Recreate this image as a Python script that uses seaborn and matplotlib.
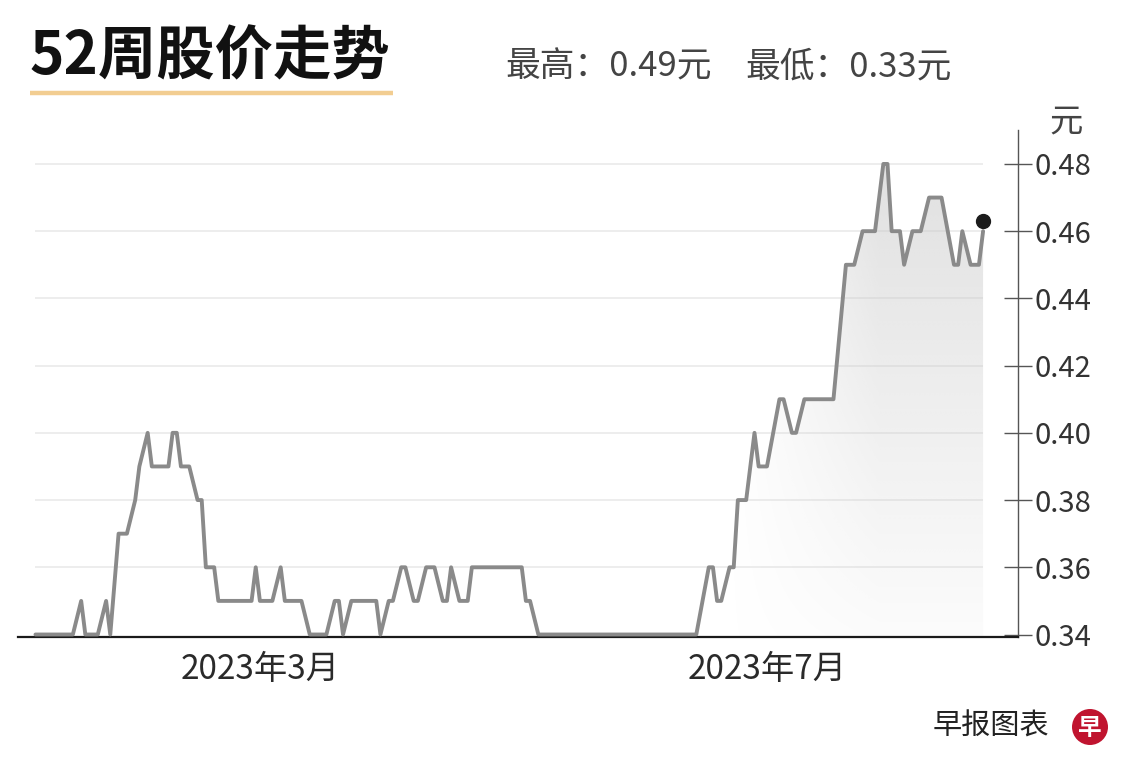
import numpy as np
import pandas as pd
import matplotlib
matplotlib.use("Agg")
import matplotlib.pyplot as plt
import matplotlib.dates as mdates
from matplotlib.patches import Ellipse
import seaborn as sns

# ---------------- data ----------------
dates = [
    "2023-01-06", "2023-01-15", "2023-01-17", "2023-01-18", "2023-01-21", "2023-01-23",
    "2023-01-24", "2023-01-26", "2023-01-28", "2023-01-30", "2023-01-31",
    "2023-02-02", "2023-02-03", "2023-02-07", "2023-02-08", "2023-02-09", "2023-02-10",
    "2023-02-12", "2023-02-14", "2023-02-15", "2023-02-16", "2023-02-18", "2023-02-19",
    "2023-02-27", "2023-02-28",
    "2023-03-01", "2023-03-04", "2023-03-06", "2023-03-07", "2023-03-11", "2023-03-13",
    "2023-03-17", "2023-03-19", "2023-03-20", "2023-03-21", "2023-03-23", "2023-03-29",
    "2023-03-30",
    "2023-04-01", "2023-04-02", "2023-04-04", "2023-04-05", "2023-04-07", "2023-04-08",
    "2023-04-10", "2023-04-12", "2023-04-14", "2023-04-15", "2023-04-16", "2023-04-18",
    "2023-04-20", "2023-04-21",
    "2023-05-03", "2023-05-04", "2023-05-05", "2023-05-07",
    "2023-06-14", "2023-06-17", "2023-06-18", "2023-06-19", "2023-06-20", "2023-06-22",
    "2023-06-23", "2023-06-24", "2023-06-26", "2023-06-28", "2023-06-29",
    "2023-07-01", "2023-07-04", "2023-07-05", "2023-07-07", "2023-07-08", "2023-07-10",
    "2023-07-17", "2023-07-20", "2023-07-22", "2023-07-24", "2023-07-27", "2023-07-29",
    "2023-07-30", "2023-07-31",
    "2023-08-02", "2023-08-03", "2023-08-05", "2023-08-07", "2023-08-09", "2023-08-12",
    "2023-08-15", "2023-08-16", "2023-08-17", "2023-08-19", "2023-08-21", "2023-08-22",
]
prices = [
    0.34, 0.34, 0.35, 0.34, 0.34, 0.35,
    0.34, 0.37, 0.37, 0.38, 0.39,
    0.40, 0.39, 0.39, 0.40, 0.40, 0.39,
    0.39, 0.38, 0.38, 0.36, 0.36, 0.35,
    0.35, 0.36,
    0.35, 0.35, 0.36, 0.35, 0.35, 0.34,
    0.34, 0.35, 0.35, 0.34, 0.35, 0.35,
    0.34,
    0.35, 0.35, 0.36, 0.36, 0.35, 0.35,
    0.36, 0.36, 0.35, 0.35, 0.36, 0.35,
    0.35, 0.36,
    0.36, 0.35, 0.35, 0.34,
    0.34, 0.36, 0.36, 0.35, 0.35, 0.36,
    0.36, 0.38, 0.38, 0.40, 0.39,
    0.39, 0.41, 0.41, 0.40, 0.40, 0.41,
    0.41, 0.45, 0.45, 0.46, 0.46, 0.48,
    0.48, 0.46,
    0.46, 0.45, 0.46, 0.46, 0.47, 0.47,
    0.45, 0.45, 0.46, 0.45, 0.45, 0.46,
]
y_ticks = [0.34, 0.36, 0.38, 0.40, 0.42, 0.44, 0.46, 0.48]
y_tick_labels = ["0.34", "0.36", "0.38", "0.40", "0.42", "0.44", "0.46", "0.48"]
x_tick_dates = ["2023-03-01", "2023-07-01"]
x_tick_labels = ["2023年3月", "2023年7月"]
title = "52周股价走势"
high_text = "最高：0.49元"
low_text = "最低：0.33元"
unit_text = "元"
source_text = "早报图表"

df = pd.DataFrame({"date": pd.to_datetime(dates), "price": prices})

# ---------------- style ----------------
sns.set_theme(style="white")
plt.rcParams["font.family"] = ["Noto Sans CJK SC", "DejaVu Sans"]

W, H = 1140, 778
fig = plt.figure(figsize=(W / 100, H / 100), dpi=100)
fig.patch.set_facecolor("white")

ax_left, ax_right, ax_top, ax_bot = 18, 1018, 130, 637
ax = fig.add_axes([ax_left / W, 1 - ax_bot / H, (ax_right - ax_left) / W, (ax_bot - ax_top) / H])
ax.set_facecolor("white")

ymin, ymax = 0.33926, 0.4901
mar1 = pd.Timestamp("2023-03-01")
xmin = mar1 + pd.Timedelta(days=-58.2)
xmax = mar1 + pd.Timedelta(days=182.4)

# grid lines only across data range
ax.hlines(y_ticks[1:], df["date"].iloc[0], df["date"].iloc[-1], colors="#ececec", linewidth=1.3, zorder=0)

# gradient fill under the line
poly = ax.fill_between(df["date"], df["price"], ymin, facecolor="none", edgecolor="none")
nx, ny = 400, 200
gx = np.linspace(0, 1, nx)
gy = np.linspace(0, 1, ny)
GX, GY = np.meshgrid(gx, gy)
px = ax_left + GX * (ax_right - ax_left)
hfade = np.clip((px - 730) / (880 - 730), 0, 1)
alpha = hfade * (0.06 + 0.52 * GY)
img = np.zeros((ny, nx, 4))
img[..., 0:3] = 200 / 255
img[..., 3] = alpha
x0n, x1n = mdates.date2num(xmin), mdates.date2num(xmax)
im = ax.imshow(img, extent=[x0n, x1n, ymin, ymax], origin="lower", aspect="auto", zorder=1,
               interpolation="bilinear")
im.set_clip_path(poly.get_paths()[0], transform=ax.transData)

sns.lineplot(data=df, x="date", y="price", ax=ax, color="#8a8a8a", linewidth=2.8, zorder=3)
for ln in ax.lines:
    ln.set_solid_joinstyle("round")
    ln.set_solid_capstyle("round")

# end dot
ax.plot([df["date"].iloc[-1]], [df["price"].iloc[-1] + 0.003], "o", color="#1c1c1c",
        markersize=10, zorder=4)

ax.set_xlim(xmin, xmax)
ax.set_ylim(ymin, ymax)

# axes styling
for s in ["left", "top"]:
    ax.spines[s].set_visible(False)
ax.spines["bottom"].set_color("#1a1a1a")
ax.spines["bottom"].set_linewidth(1.6)
ax.spines["right"].set_color("#555555")
ax.spines["right"].set_linewidth(1.0)

ax.yaxis.tick_right()
ax.set_yticks(y_ticks)
ax.set_yticklabels(y_tick_labels)
ax.tick_params(axis="y", direction="inout", length=20, width=1, color="#555555",
               labelsize=21, labelcolor="#333333", pad=2, left=False, right=True)
ax.set_xticks(pd.to_datetime(x_tick_dates))
ax.set_xticklabels(x_tick_labels)
ax.tick_params(axis="x", direction="in", length=12, width=1, color="#555555",
               labelsize=24, labelcolor="#2a2a2a", pad=11)
ax.set_xlabel("")
ax.set_ylabel("")
ax.grid(False)

# ---------------- texts ----------------
fig.text(30 / W, 1 - 57 / H, title, fontsize=42, fontweight="bold", color="#111111",
         ha="left", va="center")
fig.add_artist(plt.Line2D([30 / W, 393 / W], [1 - 93 / H, 1 - 93 / H], color="#f2cd91",
                          linewidth=3.2, solid_capstyle="butt"))
fig.text(505 / W, 1 - 67 / H, high_text, fontsize=25, color="#444444", ha="left", va="center")
fig.text(745 / W, 1 - 67 / H, low_text, fontsize=25, color="#444444", ha="left", va="center")
fig.text(1066 / W, 1 - 122 / H, unit_text, fontsize=24, color="#444444", ha="center", va="center")
fig.text(933 / W, 1 - 727 / H, source_text, fontsize=21, color="#222222", ha="left", va="center")

fig.add_artist(Ellipse((1090 / W, 1 - 727 / H), 36 / W, 36 / H, transform=fig.transFigure,
                       facecolor="#c0142f", edgecolor="none"))
fig.text(1090 / W, 1 - 728 / H, "早", fontsize=17, fontweight="bold", color="white",
         ha="center", va="center")

fig.savefig("out.png", dpi=100, facecolor="white")
